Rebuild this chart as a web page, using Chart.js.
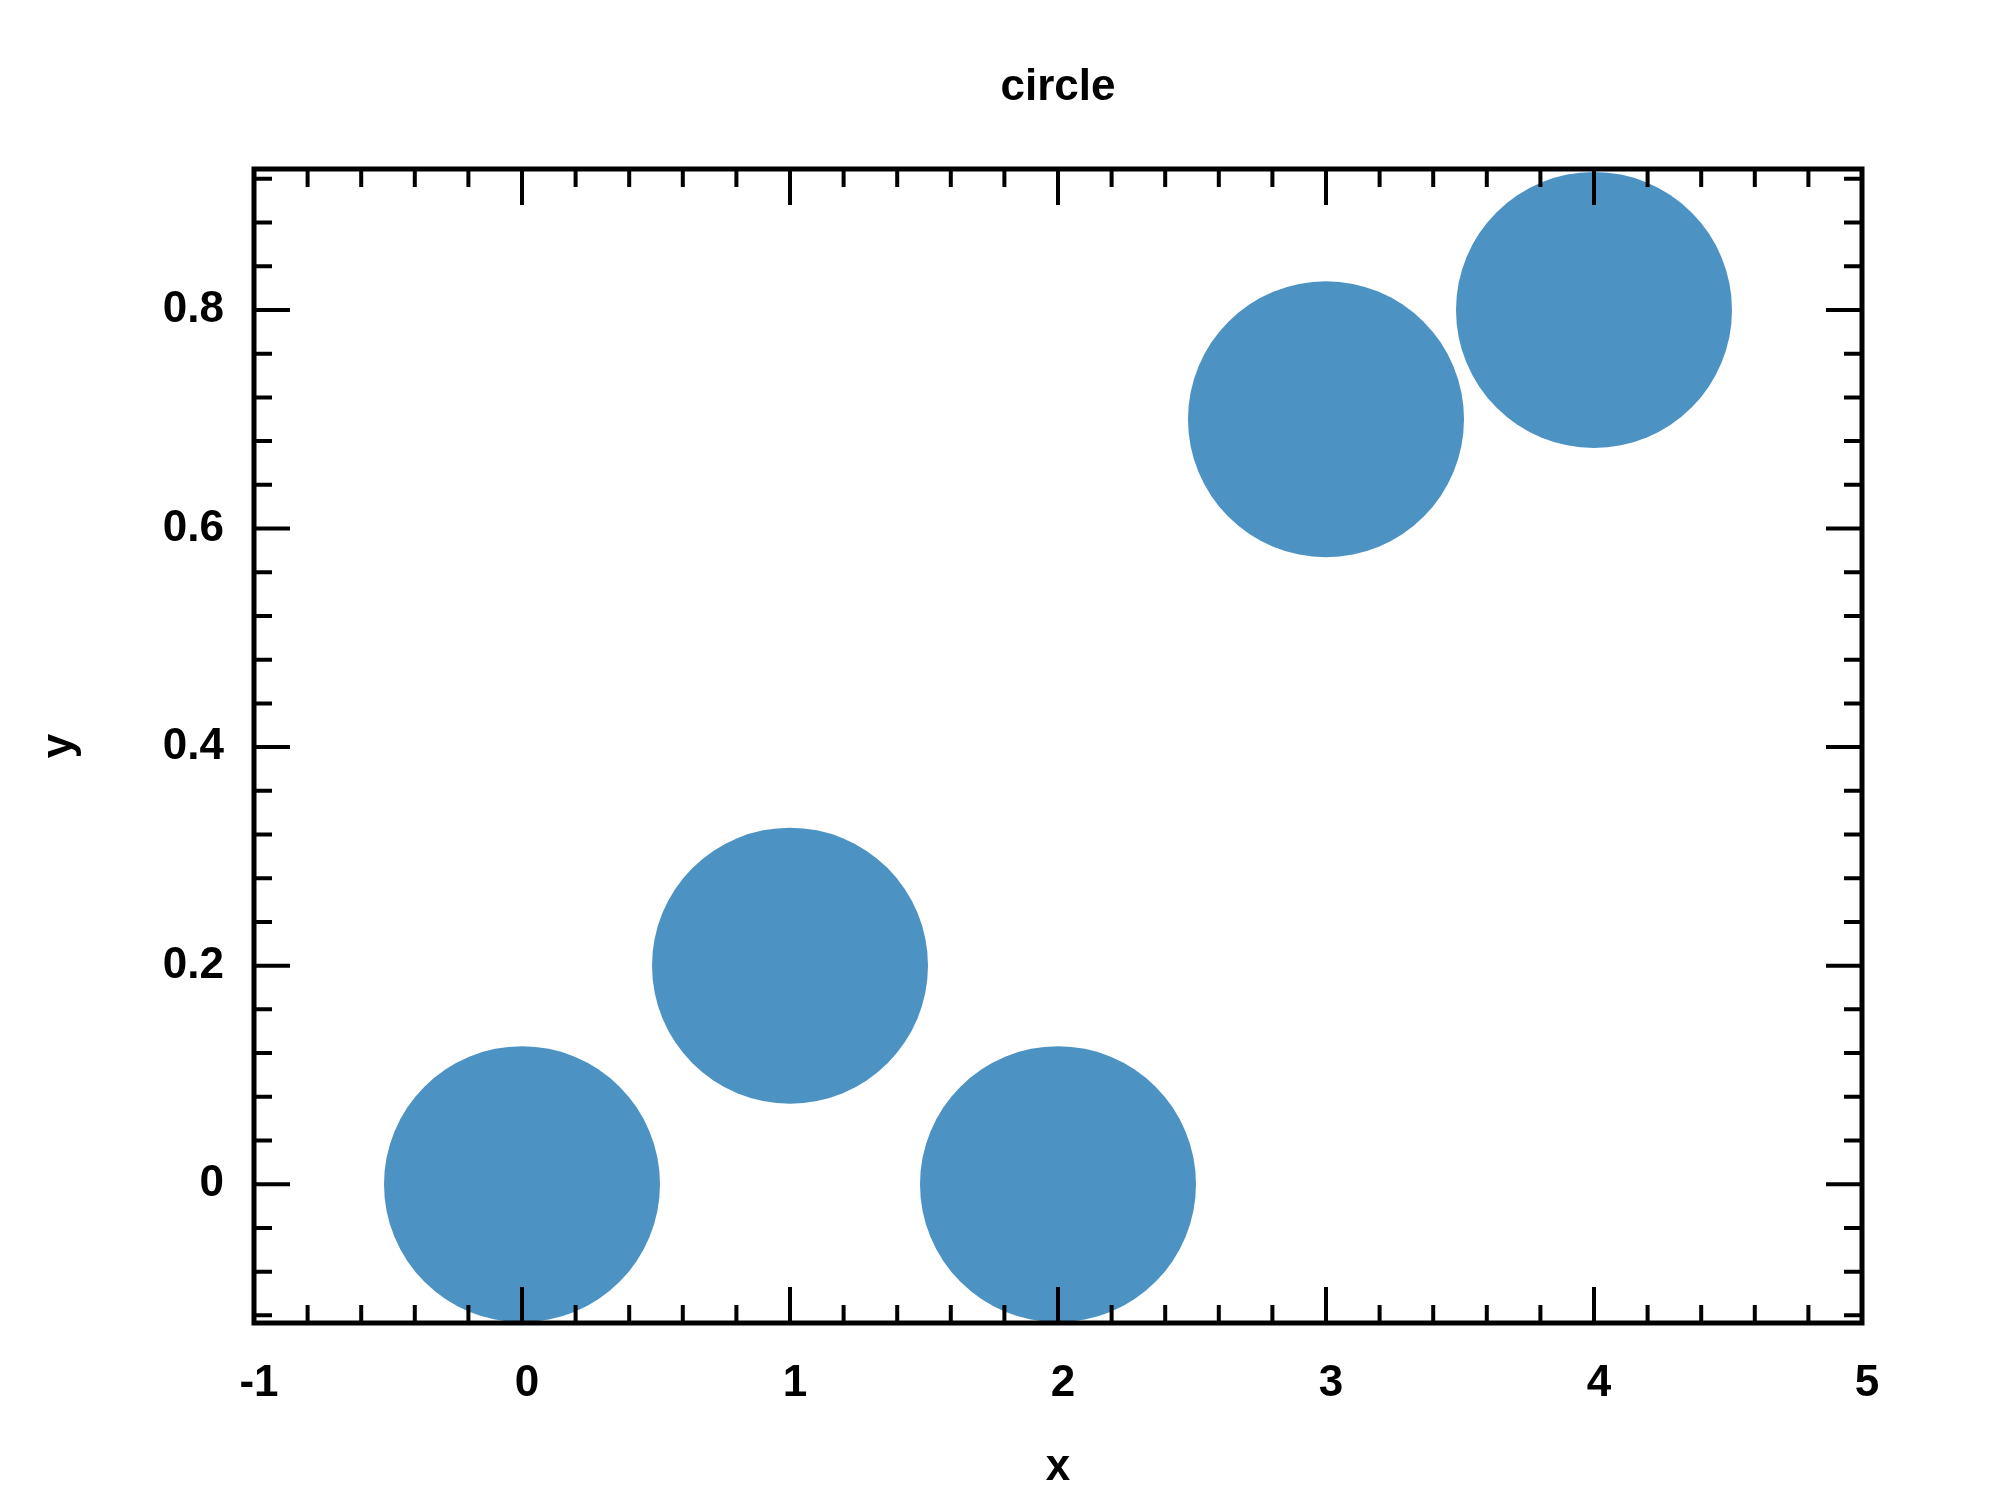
<!DOCTYPE html>
<html><head><script src="https://cdn.jsdelivr.net/npm/chart.js@4/dist/chart.umd.min.js"></script>
<style>body{margin:0;background:#fff}</style></head>
<body><canvas id="c" width="2000" height="1500"></canvas>
<script>
const xs=[0,1,2,3,4];
const ys=[0,0.2,0,0.7,0.8];
const xTicks=[-1,0,1,2,3,4,5];
const yTicks=[0,0.2,0.4,0.6,0.8];
const FONT='bold 44px "Liberation Sans", Arial, sans-serif';
const deco={id:'deco',afterDatasetsDraw(ch){
 const c=ch.ctx,a=ch.chartArea,X=ch.scales.x,Y=ch.scales.y;
 c.save();c.strokeStyle='#000';c.lineCap='butt';
 c.lineWidth=4;
 for(let v=-1;v<=5.0001;v+=0.2){const p=X.getPixelForValue(v);const maj=Math.abs(v-Math.round(v))<1e-6;const L=maj?36:18;
  c.beginPath();c.moveTo(p,a.bottom);c.lineTo(p,a.bottom-L);c.moveTo(p,a.top);c.lineTo(p,a.top+L);c.stroke();}
 for(let i=-3;i<=23;i++){const v=i*0.04;const p=Y.getPixelForValue(v);if(p<a.top-1||p>a.bottom+1)continue;const maj=i%5===0;const L=maj?36:18;
  c.beginPath();c.moveTo(a.left,p);c.lineTo(a.left+L,p);c.moveTo(a.right,p);c.lineTo(a.right-L,p);c.stroke();}
 c.lineWidth=5;c.strokeRect(a.left,a.top,a.right-a.left,a.bottom-a.top);
 c.fillStyle='#000';c.font=FONT;
 c.textAlign='center';c.textBaseline='middle';
 xTicks.forEach(v=>c.fillText(String(v),X.getPixelForValue(v)+5,1384));
 c.textAlign='right';
 yTicks.forEach(v=>c.fillText(v===0?'0':String(v),224,Y.getPixelForValue(v)));
 c.textAlign='center';
 c.fillText('circle',(a.left+a.right)/2,88);
 c.fillText('x',(a.left+a.right)/2,1468);
 c.translate(60,(a.top+a.bottom)/2);c.rotate(-Math.PI/2);c.fillText('y',0,0);
 c.restore();}};
new Chart(document.getElementById('c'),{type:'scatter',
 data:{datasets:[{data:xs.map((x,i)=>({x,y:ys[i]})),pointRadius:138,pointHoverRadius:138,backgroundColor:'rgba(31,119,180,0.8)',borderWidth:0,clip:false}]},
 options:{responsive:false,devicePixelRatio:1,animation:false,
  layout:{padding:{left:254,right:81,top:169,bottom:177}},
  plugins:{legend:{display:false},tooltip:{enabled:false},title:{display:false}},
  scales:{x:{type:'linear',min:-1,max:5,display:false},y:{type:'linear',min:-0.127,max:0.929,display:false}}},
 plugins:[deco]});
</script></body></html>
